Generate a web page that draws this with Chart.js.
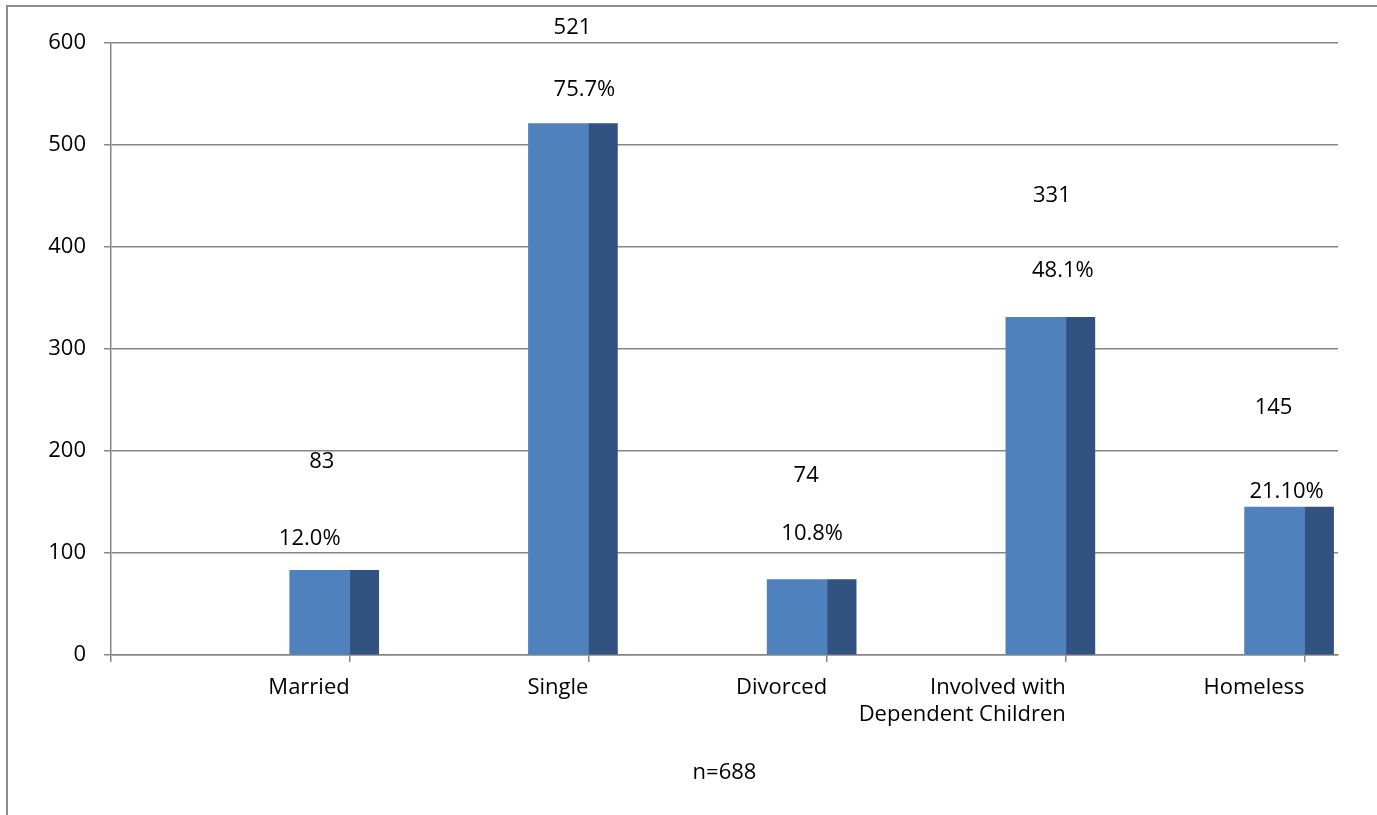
<!DOCTYPE html>
<html>
<head>
<meta charset="utf-8">
<script src="https://cdn.jsdelivr.net/npm/chart.js@4/dist/chart.umd.min.js"></script>
<style>
  html, body { margin: 0; padding: 0; background: #fff; }
  #frame { position: absolute; left: 6px; top: 5px; width: 1371px; height: 810px;
           border-top: 2px solid #8c8c8c; border-left: 2px solid #8c8c8c; }
  #wrap { position: absolute; left: 0; top: 0; width: 1377px; height: 815px; }
</style>
</head>
<body>
<div id="frame"></div>
<div id="wrap"><canvas id="c" width="1377" height="815"></canvas></div>
<script>
// Categories (multi-line labels as arrays), counts and their percentage labels
const categories = ['Married', 'Single', 'Divorced', ['Involved with', 'Dependent Children'], 'Homeless'];
const counts = [83, 521, 74, 331, 145];
const percentLabels = ['12.0%', '75.7%', '10.8%', '48.1%', '21.10%'];
const yTicks = [0, 100, 200, 300, 400, 500, 600];
const sampleNote = 'n=688';

// Category slots on the x axis (1..5; slot 0 is the axis origin)
const positions = categories.map((_, i) => i + 1);

// Label placement relative to each category tick and bar top (pixels)
const labelLayout = [
  { countDx: -28, countDy: 109, pctDx: -40, pctDy: 32 },
  { countDx: -16, countDy: 96,  pctDx: -4,  pctDy: 34 },
  { countDx: -21, countDy: 104, pctDx: -15, pctDy: 46 },
  { countDx: -14, countDy: 122, pctDx: -3,  pctDy: 47 },
  { countDx: -31, countDy: 99,  pctDx: -18, pctDy: 15 }
];

const FONT = { family: '"Open Sans", sans-serif', size: 22 };
const GRID = '#868686';

const valueLabels = {
  id: 'valueLabels',
  afterDatasetsDraw(chart) {
    const { ctx } = chart;
    const meta = chart.getDatasetMeta(0);
    const xs = chart.scales.x;
    ctx.save();
    ctx.font = `${FONT.size}px ${FONT.family}`;
    ctx.fillStyle = '#000';
    ctx.textAlign = 'center';
    ctx.textBaseline = 'middle';
    meta.data.forEach((bar, i) => {
      const tx = xs.getPixelForValue(positions[i]);
      const L = labelLayout[i];
      ctx.fillText(String(counts[i]), tx + L.countDx, bar.y - L.countDy);
      ctx.fillText(percentLabels[i], tx + L.pctDx, bar.y - L.pctDy);
    });
    ctx.restore();
  }
};

const points = positions.map((x, i) => ({ x, y: counts[i] }));

new Chart(document.getElementById('c'), {
  type: 'bar',
  data: {
    datasets: [
      { data: points, backgroundColor: '#4F81BD', barThickness: 60, borderWidth: 0 },
      { data: points, backgroundColor: '#325381', barThickness: 29, borderWidth: 0 }
    ]
  },
  options: {
    responsive: false,
    animation: false,
    layout: { padding: { top: 43, right: 39, left: 0, bottom: 0 } },
    plugins: { legend: { display: false }, tooltip: { enabled: false } },
    scales: {
      x: {
        type: 'linear',
        offset: false,
        min: 0,
        max: 5.14,
        afterBuildTicks(scale) { scale.ticks = [0, ...positions].map(v => ({ value: v })); },
        afterFit(scale) { scale.height = 160; },
        grid: { offset: false, drawOnChartArea: false, drawTicks: true, tickLength: 7, color: GRID, lineWidth: 1.5 },
        border: { display: true, color: GRID, width: 1.5 },
        ticks: {
          autoSkip: false,
          maxRotation: 0,
          align: 'end',
          padding: 13,
          color: '#000',
          font: FONT,
          callback: v => (v >= 1 && v <= categories.length) ? categories[v - 1] : ''
        },
        title: { display: true, text: sampleNote, color: '#000', font: FONT, padding: { top: 0, bottom: 29 } }
      },
      y: {
        min: 0,
        max: 600,
        afterBuildTicks(scale) { scale.ticks = yTicks.map(v => ({ value: v })); },
        afterFit(scale) { scale.width = 111; },
        grid: { color: GRID, lineWidth: 1.5, drawTicks: true, tickLength: 7 },
        border: { display: true, color: GRID, width: 1.5 },
        ticks: { color: '#000', font: FONT, padding: 18 }
      }
    }
  },
  plugins: [valueLabels]
});
</script>
</body>
</html>
